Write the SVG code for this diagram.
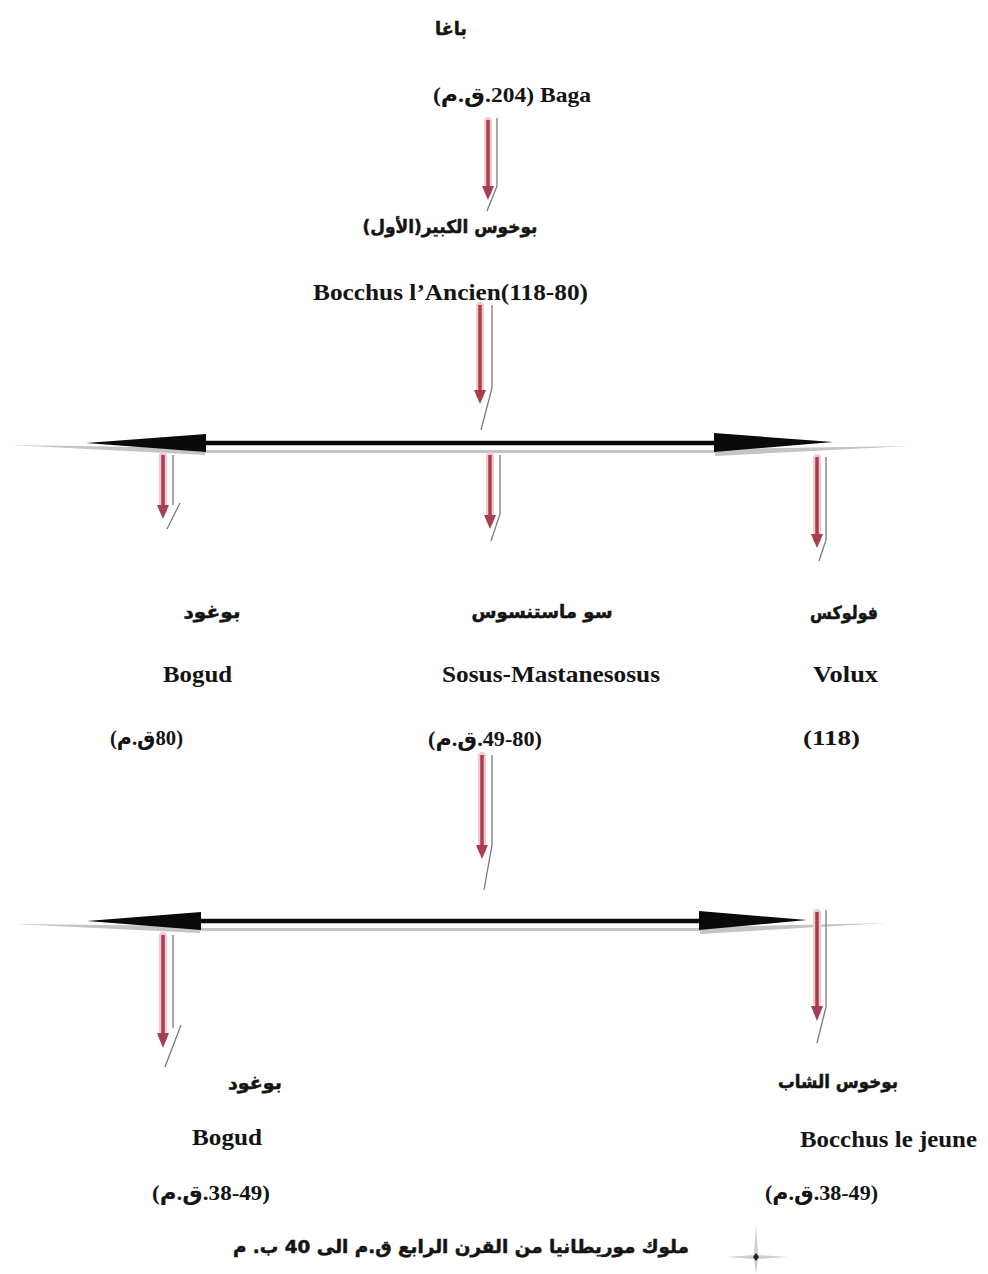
<svg xmlns="http://www.w3.org/2000/svg" width="988" height="1274" viewBox="0 0 988 1274">
<style>
.lat{font-family:"Liberation Serif","DejaVu Sans",serif;font-weight:bold;font-size:23px;fill:#141414}
.dt{font-family:"Liberation Serif","DejaVu Sans",serif;font-weight:bold;font-size:21px;fill:#141414;unicode-bidi:bidi-override;direction:ltr}
.ar{font-family:"DejaVu Sans",sans-serif;font-weight:bold;font-size:18px;fill:#141414;stroke:#141414;stroke-width:0.5;direction:rtl;text-anchor:middle}
.halo{stroke:#f3c9cf;stroke-width:8;fill:none;stroke-linecap:round}
.red{stroke:#a63f50;stroke-width:3.5;fill:none}
.head{fill:#a63f50}
.sh{stroke:#7a7a7a;stroke-width:1.3;fill:none}
.blk{stroke:#0a0a0a;stroke-width:4.5;fill:none}
.bh{fill:#0a0a0a}
.gw{fill:#c4c4c4}
.gl{stroke:#c4c4c4;stroke-width:3;fill:none}
</style>
<rect width="988" height="1274" fill="#ffffff"/>

<g id="connectors">
  <g id="h1">
    <polygon class="gw" points="10,445 205,448 205,455"/>
    <polygon class="gw" points="910,446 715,449 715,456"/>
    <line class="gl" x1="205" y1="451.5" x2="715" y2="451.5"/>
    <line class="blk" x1="200" y1="443" x2="720" y2="443"/>
    <polygon class="bh" points="206,434 206,452 86,443"/>
    <polygon class="bh" points="714,433 714,452 833,442"/>
  </g>
  <g id="h2">
    <polygon class="gw" points="13,924 200,926 200,933"/>
    <polygon class="gw" points="887,923 700,927 700,934"/>
    <line class="gl" x1="200" y1="929.5" x2="700" y2="929.5"/>
    <line class="blk" x1="195" y1="921" x2="705" y2="921"/>
    <polygon class="bh" points="201,912 201,930 87,921"/>
    <polygon class="bh" points="699,911 699,930 807,920"/>
  </g>
  <g id="a1">
    <line class="halo" x1="488" y1="121" x2="488" y2="192"/>
    <line class="red" x1="488" y1="120" x2="488" y2="190"/>
    <polygon class="head" points="482,186 494,186 488,200"/>
    <path class="sh" d="M497,118 V186 L487,211"/>
  </g>
  <g id="a2">
    <line class="halo" x1="480" y1="306" x2="480" y2="395"/>
    <line class="red" x1="480" y1="305" x2="480" y2="394"/>
    <polygon class="head" points="474,390 486,390 480,404"/>
    <path class="sh" d="M492,305 V388 L481,430"/>
  </g>
  <g id="a3">
    <line class="halo" x1="163" y1="456" x2="163" y2="510"/>
    <line class="red" x1="163" y1="455" x2="163" y2="509"/>
    <polygon class="head" points="157,505 169,505 163,519"/>
    <path class="sh" d="M173,455 V505 M180,503 L167,529"/>
  </g>
  <g id="a4">
    <line class="halo" x1="490" y1="456" x2="490" y2="520"/>
    <line class="red" x1="490" y1="455" x2="490" y2="519"/>
    <polygon class="head" points="484,515 496,515 490,529"/>
    <path class="sh" d="M500,455 V514 L491,541"/>
  </g>
  <g id="a5">
    <line class="halo" x1="817" y1="458" x2="817" y2="539"/>
    <line class="red" x1="817" y1="457" x2="817" y2="538"/>
    <polygon class="head" points="811,534 823,534 817,548"/>
    <path class="sh" d="M826,457 V540 L819,561"/>
  </g>
  <g id="a6">
    <line class="halo" x1="482" y1="756" x2="482" y2="850"/>
    <line class="red" x1="482" y1="755" x2="482" y2="849"/>
    <polygon class="head" points="476,845 488,845 482,859"/>
    <path class="sh" d="M492,755 V845 L484,890"/>
  </g>
  <g id="a7">
    <line class="halo" x1="163" y1="936" x2="163" y2="1038"/>
    <line class="red" x1="163" y1="935" x2="163" y2="1037"/>
    <polygon class="head" points="157,1033 169,1033 163,1048"/>
    <path class="sh" d="M173,935 V1028 M181,1025 L165,1067"/>
  </g>
  <g id="a8">
    <line class="halo" x1="817" y1="913" x2="817" y2="1011"/>
    <line class="red" x1="817" y1="912" x2="817" y2="1010"/>
    <polygon class="head" points="811,1006 823,1006 817,1021"/>
    <path class="sh" d="M826,910 V1007 L817,1043"/>
  </g>
</g>

<g id="baga">
  <text class="ar" x="451" y="35" textLength="32" lengthAdjust="spacingAndGlyphs">باغا</text>
  <text class="dt" x="433" y="102" textLength="158" lengthAdjust="spacingAndGlyphs">(م.ق.204) Baga</text>
</g>
<g id="bocchus-ancien">
  <text class="ar" x="450" y="233" textLength="175" lengthAdjust="spacingAndGlyphs">بوخوس الكبير(الأول)</text>
  <text class="lat" x="313" y="300" textLength="275" lengthAdjust="spacingAndGlyphs">Bocchus l’Ancien(118-80)</text>
</g>
<g id="bogud1">
  <text class="ar" x="212" y="618" textLength="57" lengthAdjust="spacingAndGlyphs">بوغود</text>
  <text class="lat" x="163" y="682" textLength="69" lengthAdjust="spacingAndGlyphs">Bogud</text>
  <text class="dt" x="110" y="745" textLength="73" lengthAdjust="spacingAndGlyphs">(م.ق80)</text>
</g>
<g id="sosus">
  <text class="ar" x="542" y="618" textLength="141" lengthAdjust="spacingAndGlyphs">سو ماستنسوس</text>
  <text class="lat" x="442" y="682" textLength="218" lengthAdjust="spacingAndGlyphs">Sosus-Mastanesosus</text>
  <text class="dt" x="428" y="746" textLength="114" lengthAdjust="spacingAndGlyphs">(م.ق.49-80)</text>
</g>
<g id="volux">
  <text class="ar" x="844" y="619" textLength="68" lengthAdjust="spacingAndGlyphs">فولوكس</text>
  <text class="lat" x="813" y="682" textLength="65" lengthAdjust="spacingAndGlyphs">Volux</text>
  <text class="dt" x="803" y="745" textLength="57" lengthAdjust="spacingAndGlyphs">(118)</text>
</g>
<g id="bogud2">
  <text class="ar" x="255" y="1089" textLength="54" lengthAdjust="spacingAndGlyphs">بوغود</text>
  <text class="lat" x="192" y="1145" textLength="70" lengthAdjust="spacingAndGlyphs">Bogud</text>
  <text class="dt" x="152" y="1200" textLength="118" lengthAdjust="spacingAndGlyphs">(م.ق.38-49)</text>
</g>
<g id="bocchus-jeune">
  <text class="ar" x="838" y="1088" textLength="120" lengthAdjust="spacingAndGlyphs">بوخوس الشاب</text>
  <text class="lat" x="800" y="1147" textLength="177" lengthAdjust="spacingAndGlyphs">Bocchus le jeune</text>
  <text class="dt" x="765" y="1200" textLength="113" lengthAdjust="spacingAndGlyphs">(م.ق.38-49)</text>
</g>
<g id="caption">
  <text class="ar" x="461" y="1253" textLength="456" lengthAdjust="spacingAndGlyphs">ملوك موريطانيا من القرن الرابع ق.م الى 40 ب. م</text>
</g>
<g id="star">
  <path d="M756,1224 L758,1255 L788,1257 L758,1259 L756,1274 L754,1259 L726,1257 L754,1255 Z" fill="#cfcfcf"/>
  <path d="M756,1253 L759,1257 L756,1261 L753,1257 Z" fill="#222"/>
</g>
</svg>
